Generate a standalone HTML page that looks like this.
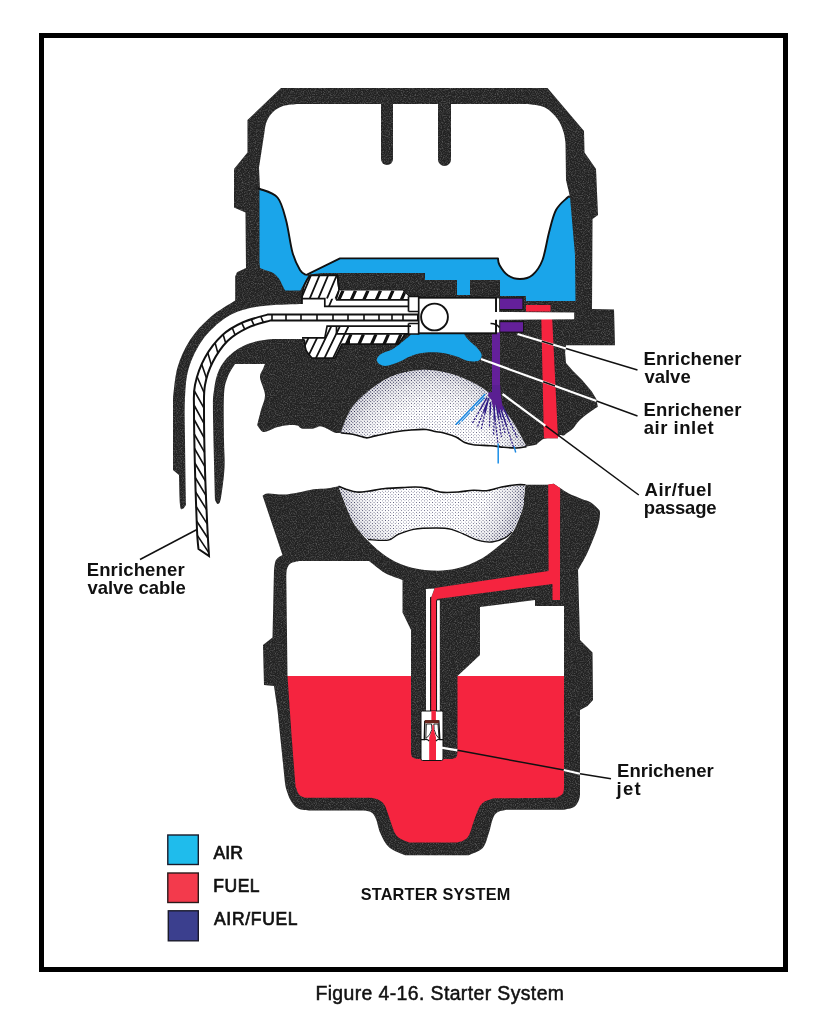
<!DOCTYPE html>
<html><head><meta charset="utf-8"><title>Figure 4-16. Starter System</title>
<style>
html,body{margin:0;padding:0;background:#fff;}
svg{display:block;will-change:transform;}
text{font-family:"Liberation Sans",sans-serif;fill:#111;}
</style></head><body>
<svg width="830" height="1028" viewBox="0 0 830 1028">
<rect width="830" height="1028" fill="#fff"/>
<defs>
<filter id="grain" x="0" y="0" width="100%" height="100%" color-interpolation-filters="sRGB">
<feTurbulence type="fractalNoise" baseFrequency="0.85" numOctaves="2" seed="7" result="n"/>
<feColorMatrix in="n" type="matrix" values="0 0 0 0 0.45  0 0 0 0 0.45  0 0 0 0 0.45  1.6 0 0 0 -0.68" result="w"/>
<feComposite in="w" in2="SourceGraphic" operator="in" result="wi"/>
<feMerge><feMergeNode in="SourceGraphic"/><feMergeNode in="wi"/></feMerge>
</filter>
<pattern id="dots" width="2.3" height="2.3" patternUnits="userSpaceOnUse" patternTransform="rotate(45)">
<rect width="2.3" height="2.3" fill="#fff"/><circle cx="1.15" cy="1.15" r="0.42" fill="#2b2b55"/></pattern>
<pattern id="dots2" width="2.3" height="2.3" patternUnits="userSpaceOnUse" patternTransform="rotate(45)">
<circle cx="1.15" cy="1.15" r="0.66" fill="#26264e"/></pattern>
<radialGradient id="mgU" gradientUnits="userSpaceOnUse" cx="432" cy="468" r="99"><stop offset="0.6" stop-color="#000"/><stop offset="0.86" stop-color="#555"/><stop offset="1" stop-color="#fff"/></radialGradient>
<radialGradient id="mgL" gradientUnits="userSpaceOnUse" cx="432" cy="477" r="94"><stop offset="0.6" stop-color="#000"/><stop offset="0.86" stop-color="#555"/><stop offset="1" stop-color="#fff"/></radialGradient>
<mask id="mkU" maskUnits="userSpaceOnUse" x="320" y="360" width="230" height="230"><rect x="320" y="360" width="230" height="230" fill="url(#mgU)"/></mask>
<mask id="mkL" maskUnits="userSpaceOnUse" x="320" y="360" width="230" height="230"><rect x="320" y="360" width="230" height="230" fill="url(#mgL)"/></mask>
<radialGradient id="rimU" gradientUnits="userSpaceOnUse" cx="432" cy="468" r="99"><stop offset="0.62" stop-color="#556" stop-opacity="0"/><stop offset="1" stop-color="#445" stop-opacity="0.1"/></radialGradient>
<radialGradient id="rimL" gradientUnits="userSpaceOnUse" cx="432" cy="477" r="94"><stop offset="0.62" stop-color="#556" stop-opacity="0"/><stop offset="1" stop-color="#445" stop-opacity="0.1"/></radialGradient>
</defs>
<rect x="41.5" y="35.5" width="744" height="934" fill="none" stroke="#000" stroke-width="5"/>
<path d="M281,88 L547.5,88 L584,131 L584.5,152.5 L596,169 L598,215 L592.5,219 L592,309 L614,309.5 L615,345.3 L566,345.3 L565.1,352.3 L566,363 L573,371 L582.3,380.3 L591.6,391.2 L596.3,399 L597.8,406.7 C596.2,407.8 591.6,410.7 588.5,413 C585.4,415.3 581.7,418.1 579.1,420.7 C576.5,423.3 575.1,426.4 573,428.5 C570.9,430.6 568.3,432 566.7,433.2 C565.1,434.4 564.7,435.2 563.6,435.5 C562.5,435.8 561,434.7 560.1,435 C559.2,435.3 558.4,436.8 558,437.1 L558,438.2 L548.2,438.2 C547.3,438.4 544.8,438.2 542.8,439.3 C540.8,440.4 537.4,443.8 536.3,444.7 L526.5,446.6 C524.9,446.8 520.5,447.9 516.7,448 C512.9,448.1 508,447.7 503.7,447.3 C499.4,446.9 495.8,446.2 490.7,445.8 C485.6,445.4 477.7,445.2 473.4,444.7 C469.1,444.1 467.6,443.8 464.7,442.5 C461.8,441.2 459.6,438.7 456,437.1 C452.4,435.5 446.5,433.7 443,432.8 C439.5,431.9 437.8,432.1 435,431.5 C432.2,430.9 430.3,429.8 426.3,429.5 C422.3,429.2 416.2,429.6 411.1,430 C406.1,430.4 401.8,430.8 396,431.7 C390.2,432.6 381.1,434.6 376.4,435.6 C371.7,436.6 370,437.6 367.8,437.8 C365.6,438.1 365.9,437.7 363.4,437.1 C360.9,436.5 356.4,435 352.6,434.3 C348.8,433.6 342.7,433.1 340.7,432.8 C339.8,432.8 337.5,433.5 335.2,432.8 C332.9,432.1 329.1,429.5 326.6,428.4 C324.1,427.3 322.2,426.3 320,426.3 C317.8,426.3 316.7,428 313.6,428.4 C310.5,428.8 304.3,428.9 301.6,428.4 C298.9,427.9 299.7,426.1 297.3,425.6 C294.9,425.1 290.9,424.9 287.5,425.2 C284.1,425.5 279.8,426.4 276.7,427.3 C273.6,428.2 271.5,429.9 269.1,430.6 C266.8,431.3 264.6,432.6 262.6,431.7 C260.6,430.8 258.1,426.3 257.2,425.2 C257.8,422.7 259.7,415 261,410 C262.3,405 265.2,400.4 265,395 C264.8,389.6 260.3,381.8 260,377.5 C259.7,373.2 262.2,371.2 263,369 C263.8,366.8 264.7,364.8 265,364 L235,364 C233.8,366.2 229.3,372.3 227.5,377.5 C225.7,382.7 224.6,384.6 224,395 C223.4,405.4 223.9,427.9 224,440 C224.1,452.1 225,457.9 224.5,467.5 C224,477.1 222.1,491.4 221,497.5 C219.9,503.6 219,503.6 218,504 C217,504.4 215.5,500.7 215,500 L186,505 C185.4,505.7 183.5,509 182.5,509 C181.5,509 180.6,510.7 180,505 C179.4,499.3 179.2,480 179,475 L173,470 L173,397.5 C173.8,392.5 174.7,377.1 177.5,367.5 C180.3,357.9 184.6,348.3 190,340 C195.4,331.7 202.5,324.1 210,317.5 C217.5,310.9 231,303.4 235.2,300.6 L235.2,276.5 L237,272.3 L246,268 L245.5,212.5 L234,207.5 L234,169 L247.5,152.5 L247.5,120 Z" fill="#222222" filter="url(#grain)"/>
<path d="M320,304 L302.5,304 C296.7,304.2 277.5,304.5 267.5,305.5 C257.5,306.5 250,307.6 242.5,310 C235,312.4 229.2,315 222.5,320 C215.8,325 208.1,332.1 202.5,340 C196.9,347.9 191.9,357.9 189,367.5 C186.1,377.1 185.7,385.4 185,397.5 C184.3,409.6 184.8,422.1 185,440 C185.2,457.9 185.8,494.2 186,505 L186,514 L215,514 L215,500 C214.7,485.8 213.2,433.3 213,415 C212.8,396.7 213,397.5 214,390 C215,382.5 216.3,375.8 219,370 C221.7,364.2 225.2,359.3 230,355 C234.8,350.7 241.2,346.6 247.5,344 C253.8,341.4 261.2,340.3 267.5,339.5 C273.8,338.7 282.1,339.1 285,339 L320,339 Z" fill="#fff"/>
<path d="M297.5,104 L528,104 C530.8,104.6 540.1,105 545,107.5 C549.9,110 554.4,114.9 557.5,119 C560.6,123.1 562.2,128 563.5,132 C564.8,136 565.2,141.2 565.5,143 L566,180 L570,197 C569.6,197.1 569.8,195.3 567.5,197.5 C565.2,199.7 559.1,204.2 556,210 C552.9,215.8 551.2,224.2 549,232.5 C546.8,240.8 545.2,252.9 542.5,260 C539.8,267.1 536.2,271.8 532.5,275 C528.8,278.2 524.2,279 520,279 C515.8,279 510.9,277.3 507.5,275 C504.1,272.7 501.1,267.8 499.5,265 C497.9,262.2 498.2,259.2 498,258 L340,258 L306,275 C305,274.2 302.2,273.8 300,270 C297.8,266.2 294.8,260.8 292.5,252.5 C290.2,244.2 288.5,229.2 286,220 C283.5,210.8 281.8,202.7 277.5,197.5 C273.2,192.3 262.9,190.4 260,189 L259,167.5 L264.5,132 C264.8,130.3 265.2,125.2 266.5,122 C267.8,118.8 269.8,115.2 272.5,112.5 C275.2,109.8 278.8,107.4 283,106 C287.2,104.6 295.5,104.3 298,104 Z" fill="#fff"/>
<path d="M381,100 L381,159 A6,6 0 0 0 393,159 L393,100 Z" fill="#222222" filter="url(#grain)"/>
<path d="M438,100 L438,159.5 A6.5,6.5 0 0 0 451,159.5 L451,100 Z" fill="#222222" filter="url(#grain)"/>
<path d="M259.5,190 C259.7,189.8 257.5,187.8 260.5,189 C263.5,190.2 273.2,192.3 277.5,197.5 C281.8,202.7 283.5,210.8 286,220 C288.5,229.2 290.2,244.2 292.5,252.5 C294.8,260.8 297.8,266.2 300,270 C302.2,273.8 305,274.2 306,275 L308,276 L300.3,290.6 L285.2,290.6 C284.8,289.9 283.8,288.1 282.8,286.1 C281.8,284.2 280.8,281.1 279.2,278.9 C277.6,276.7 275.6,274.4 273.2,272.9 C270.8,271.4 267,270.7 264.8,269.9 C262.6,269.1 260.8,268.3 260,268 L259.5,262 Z" fill="#1aa5ea"/>
<path d="M259,189.5 C259.2,189.4 256.9,187.7 260,189 C263.1,190.3 273.2,192.3 277.5,197.5 C281.8,202.7 283.5,210.8 286,220 C288.5,229.2 290.2,244.2 292.5,252.5 C294.8,260.8 297.8,266.2 300,270 C302.2,273.8 305,274.2 306,275" fill="none" stroke="#111" stroke-width="1.9"/>
<path d="M340,258.8 L498,258.8 C498.2,259.8 497.9,262.3 499.5,265 C501.1,267.7 504.1,272.7 507.5,275 C510.9,277.3 515.8,279 520,279 C524.2,279 528.8,278.2 532.5,275 C536.2,271.8 539.8,267.1 542.5,260 C545.2,252.9 546.8,240.8 549,232.5 C551.2,224.2 552.9,215.8 556,210 C559.1,204.2 565.2,199.7 567.5,197.5 C569.8,195.3 569.6,197.1 570,197 L575,255 L575.5,301 L526,301 L526,296 L500,296 L500,280 L470,280 L470,295 L457,295 L457,280 L425,280 L425,273 L322.5,273 L309,274.5 Z" fill="#1aa5ea"/>
<path d="M306,275 L340,258.4 L498,258.4 C498.2,259.5 497.9,262.2 499.5,265 C501.1,267.8 504.1,272.7 507.5,275 C510.9,277.3 515.8,279 520,279 C524.2,279 528.8,278.2 532.5,275 C536.2,271.8 539.8,267.1 542.5,260 C545.2,252.9 546.8,240.8 549,232.5 C551.2,224.2 552.9,215.8 556,210 C559.1,204.2 565.2,199.7 567.5,197.5 C569.8,195.3 569.6,197.1 570,197" fill="none" stroke="#111" stroke-width="1.9" stroke-linejoin="round"/>
<path d="M409.7,336 L412,333 L464.5,333 L464.5,335 C465.3,336 467.5,339 469.5,341 C471.5,343 474.3,344.9 476.3,347 C478.3,349.1 480.7,351.8 481.4,353.7 C482.1,355.6 481.4,357.4 480.5,358.7 C479.6,360 478.7,361 476.3,361.3 C473.9,361.6 469.6,361.2 466.2,360.4 C462.8,359.5 460.2,357.5 456,356.2 C451.8,354.9 446.2,353.4 440.9,352.8 C435.6,352.2 429.1,352.2 424,352.8 C418.9,353.4 414.7,354.6 410.5,356.2 C406.3,357.8 402.6,360.5 398.7,362.1 C394.8,363.7 390.1,365.4 387,365.8 C383.9,366.2 381.9,365.5 380.2,364.6 C378.5,363.7 377.1,361.8 376.8,360.4 C376.5,359 377.4,357.5 378.5,356.2 C379.6,354.9 381.2,353.9 383.5,352.8 C385.8,351.7 389.2,351.1 392,349.5 C394.8,347.9 398.1,345.2 400.4,343.5 C402.6,341.8 403.9,340.6 405.5,339.3 C407.1,338.1 409,336.6 409.7,336 Z" fill="#1aa5ea"/>
<path d="M340.7,432.8 C342.3,429 346.3,416.5 350.4,410 C354.4,403.5 358.4,399.5 365,394 C371.6,388.5 380.8,381 390,377 C399.2,373 410,370.6 420,370 C430,369.4 440.4,371 450,373.5 C459.6,376 470.2,380.9 477.5,385 C484.8,389.1 488.6,392.5 494,398 C499.4,403.5 505.7,411.7 510.2,418 C514.7,424.3 518.3,431.2 521,436 C523.7,440.8 525.6,444.8 526.5,446.6 C524.9,446.8 520.5,447.9 516.7,448 C512.9,448.1 508,447.7 503.7,447.3 C499.4,446.9 495.8,446.2 490.7,445.8 C485.6,445.4 477.7,445.2 473.4,444.7 C469.1,444.1 467.6,443.8 464.7,442.5 C461.8,441.2 459.6,438.7 456,437.1 C452.4,435.5 446.5,433.7 443,432.8 C439.5,431.9 437.8,432.1 435,431.5 C432.2,430.9 430.3,429.8 426.3,429.5 C422.3,429.2 416.2,429.6 411.1,430 C406.1,430.4 401.8,430.8 396,431.7 C390.2,432.6 381.1,434.6 376.4,435.6 C371.7,436.6 370,437.6 367.8,437.8 C365.6,438.1 365.9,437.7 363.4,437.1 C360.9,436.5 356.4,435 352.6,434.3 C348.8,433.6 342.7,433.1 340.7,432.8 Z" fill="url(#dots)"/>
<path d="M340.7,432.8 C342.3,429 346.3,416.5 350.4,410 C354.4,403.5 358.4,399.5 365,394 C371.6,388.5 380.8,381 390,377 C399.2,373 410,370.6 420,370 C430,369.4 440.4,371 450,373.5 C459.6,376 470.2,380.9 477.5,385 C484.8,389.1 488.6,392.5 494,398 C499.4,403.5 505.7,411.7 510.2,418 C514.7,424.3 518.3,431.2 521,436 C523.7,440.8 525.6,444.8 526.5,446.6 C524.9,446.8 520.5,447.9 516.7,448 C512.9,448.1 508,447.7 503.7,447.3 C499.4,446.9 495.8,446.2 490.7,445.8 C485.6,445.4 477.7,445.2 473.4,444.7 C469.1,444.1 467.6,443.8 464.7,442.5 C461.8,441.2 459.6,438.7 456,437.1 C452.4,435.5 446.5,433.7 443,432.8 C439.5,431.9 437.8,432.1 435,431.5 C432.2,430.9 430.3,429.8 426.3,429.5 C422.3,429.2 416.2,429.6 411.1,430 C406.1,430.4 401.8,430.8 396,431.7 C390.2,432.6 381.1,434.6 376.4,435.6 C371.7,436.6 370,437.6 367.8,437.8 C365.6,438.1 365.9,437.7 363.4,437.1 C360.9,436.5 356.4,435 352.6,434.3 C348.8,433.6 342.7,433.1 340.7,432.8 Z" fill="url(#rimU)"/>
<path d="M340.7,432.8 C342.3,429 346.3,416.5 350.4,410 C354.4,403.5 358.4,399.5 365,394 C371.6,388.5 380.8,381 390,377 C399.2,373 410,370.6 420,370 C430,369.4 440.4,371 450,373.5 C459.6,376 470.2,380.9 477.5,385 C484.8,389.1 488.6,392.5 494,398 C499.4,403.5 505.7,411.7 510.2,418 C514.7,424.3 518.3,431.2 521,436 C523.7,440.8 525.6,444.8 526.5,446.6 C524.9,446.8 520.5,447.9 516.7,448 C512.9,448.1 508,447.7 503.7,447.3 C499.4,446.9 495.8,446.2 490.7,445.8 C485.6,445.4 477.7,445.2 473.4,444.7 C469.1,444.1 467.6,443.8 464.7,442.5 C461.8,441.2 459.6,438.7 456,437.1 C452.4,435.5 446.5,433.7 443,432.8 C439.5,431.9 437.8,432.1 435,431.5 C432.2,430.9 430.3,429.8 426.3,429.5 C422.3,429.2 416.2,429.6 411.1,430 C406.1,430.4 401.8,430.8 396,431.7 C390.2,432.6 381.1,434.6 376.4,435.6 C371.7,436.6 370,437.6 367.8,437.8 C365.6,438.1 365.9,437.7 363.4,437.1 C360.9,436.5 356.4,435 352.6,434.3 C348.8,433.6 342.7,433.1 340.7,432.8 Z" fill="url(#dots2)" mask="url(#mkU)"/>
<path d="M526.5,446.6 C524.9,446.8 520.5,447.9 516.7,448 C512.9,448.1 508,447.7 503.7,447.3 C499.4,446.9 495.8,446.2 490.7,445.8 C485.6,445.4 477.7,445.2 473.4,444.7 C469.1,444.1 467.6,443.8 464.7,442.5 C461.8,441.2 459.6,438.7 456,437.1 C452.4,435.5 446.5,433.7 443,432.8 C439.5,431.9 437.8,432.1 435,431.5 C432.2,430.9 430.3,429.8 426.3,429.5 C422.3,429.2 416.2,429.6 411.1,430 C406.1,430.4 401.8,430.8 396,431.7 C390.2,432.6 381.1,434.6 376.4,435.6 C371.7,436.6 370,437.6 367.8,437.8 C365.6,438.1 365.9,437.7 363.4,437.1 C360.9,436.5 356.4,435 352.6,434.3 C348.8,433.6 342.7,433.1 340.7,432.8" fill="none" stroke="#111" stroke-width="1.6" stroke-linejoin="round"/>
<path d="M541.3,319 L552.2,319 L558,438.2 L543.9,438.2 Z" fill="#f5243f"/>
<rect x="526" y="305" width="24.5" height="6.5" fill="#f5243f"/>
<rect x="499.4" y="298" width="23.6" height="11.6" fill="#64209a" stroke="#151515" stroke-width="1.2"/>
<rect x="499.6" y="321.6" width="24" height="10.6" fill="#64209a" stroke="#151515" stroke-width="1.2"/>
<path d="M492,332.5 L500,332.5 L500,385 L498,395 L494,395 L492,385 Z" fill="#64209a"/>
<rect x="417.7" y="297.7" width="78.3" height="35.6" fill="#fff" stroke="#111" stroke-width="1.9"/>
<circle cx="434.5" cy="317" r="13.4" fill="#fff" stroke="#111" stroke-width="1.9"/>
<path d="M495,312 L574.2,312.4 L574.2,319.2 L495,319.8 Z" fill="#fff"/>
<rect x="497" y="298.4" width="2.2" height="34" fill="#fff"/>
<path d="M490.5,323.6 Q496,323.4 499.5,327.5" fill="none" stroke="#111" stroke-width="1.5"/>
<clipPath id="fitclip"><path d="M302,304 L302,296.5 C302.2,295.1 302.7,290.8 303.5,288 C304.3,285.2 305.8,282.1 307,280 C308.2,277.9 310.1,276.2 310.7,275.5 L337.3,275.2 L339,289 L339.5,290.5 L403,290.5 L408.5,296.3 L418.7,296.3 L418.7,334 L408.5,334 L404.6,334.7 L398.4,344.1 L342,344.1 L335,358.2 L312,358.2 C311,356.8 307.3,353 306,350 C304.7,347 304.7,341.8 304.4,340.2 L302,339 Z"/></clipPath>
<path d="M302,304 L302,296.5 C302.2,295.1 302.7,290.8 303.5,288 C304.3,285.2 305.8,282.1 307,280 C308.2,277.9 310.1,276.2 310.7,275.5 L337.3,275.2 L339,289 L339.5,290.5 L403,290.5 L408.5,296.3 L418.7,296.3 L418.7,334 L408.5,334 L404.6,334.7 L398.4,344.1 L342,344.1 L335,358.2 L312,358.2 C311,356.8 307.3,353 306,350 C304.7,347 304.7,341.8 304.4,340.2 L302,339 Z" fill="#fff"/>
<path d="M302,304 L302,296.5 C302.2,295.1 302.7,290.8 303.5,288 C304.3,285.2 305.8,282.1 307,280 C308.2,277.9 310.1,276.2 310.7,275.5 L337.3,275.2 L339,289 L339.5,290.5 L403,290.5 L408.5,296.3 L418.7,296.3 L418.7,334 L408.5,334 L404.6,334.7 L398.4,344.1 L342,344.1 L335,358.2 L312,358.2 C311,356.8 307.3,353 306,350 C304.7,347 304.7,341.8 304.4,340.2 L302,339" fill="none" stroke="#111" stroke-width="1.7" stroke-linejoin="round"/>
<g clip-path="url(#fitclip)">
<clipPath id="nt"><rect x="300" y="274" width="39.5" height="24.7"/></clipPath>
<g clip-path="url(#nt)"><path d="M292.5,298.7 L302.5,275 M301.1,298.7 L311.1,275 M309.7,298.7 L319.7,275 M318.3,298.7 L328.3,275 M326.9,298.7 L336.9,275 M335.5,298.7 L345.5,275 M344.1,298.7 L354.1,275" stroke="#111" stroke-width="1.8" fill="none"/></g>
<clipPath id="nt2"><rect x="324.8" y="298.7" width="11" height="7.8"/></clipPath>
<g clip-path="url(#nt2)"><path d="M285.9,306.5 L299.2,275 M294.5,306.5 L307.8,275 M303.1,306.5 L316.4,275 M311.7,306.5 L325,275 M320.3,306.5 L333.6,275 M328.9,306.5 L342.2,275 M337.5,306.5 L350.8,275 M346.1,306.5 L359.4,275" stroke="#111" stroke-width="1.8" fill="none"/></g>
<clipPath id="nb"><path d="M300,337.8 L324.8,337.8 L327.1,326.1 L350,326.1 L350,360 L300,360 Z"/></clipPath>
<g clip-path="url(#nb)"><path d="M281.5,358.2 L297,326.1 M290.1,358.2 L305.6,326.1 M298.7,358.2 L314.2,326.1 M307.3,358.2 L322.8,326.1 M315.9,358.2 L331.4,326.1 M324.5,358.2 L340,326.1 M333.1,358.2 L348.6,326.1 M341.7,358.2 L357.2,326.1 M350.3,358.2 L365.8,326.1 M358.9,358.2 L374.4,326.1" stroke="#111" stroke-width="1.8" fill="none"/></g>
<clipPath id="tt"><path d="M339.5,290 L403,290 L409,296.3 L409,299.8 L336,299.8 Z"/></clipPath>
<g clip-path="url(#tt)"><rect x="330" y="288" width="85" height="13" fill="#fff"/><path d="M338.8,299.8 L343,290.5 M351.3,299.8 L355.5,290.5 M363.8,299.8 L368,290.5 M376.3,299.8 L380.5,290.5 M388.8,299.8 L393,290.5 M401.3,299.8 L405.5,290.5 M413.8,299.8 L418,290.5" stroke="#111" stroke-width="3.2" fill="none"/></g>
<clipPath id="tb"><path d="M340,334.2 L406,334.2 L398.4,344.5 L340,344.5 Z"/></clipPath>
<g clip-path="url(#tb)"><path d="M333.9,344.5 L338.5,334.2 M346.4,344.5 L351,334.2 M358.9,344.5 L363.5,334.2 M371.4,344.5 L376,334.2 M383.9,344.5 L388.5,334.2 M396.4,344.5 L401,334.2 M408.9,344.5 L413.5,334.2" stroke="#111" stroke-width="3.2" fill="none"/></g>
</g>
<path d="M302,298.7 L324.8,298.7 L324.8,306.3 L408.5,306.3 M336,299.8 L408.5,299.8 M339,290.5 L336,299.8 M337.3,275.2 L339,289 M302,337.8 L324.8,337.8 L327.1,326.1 L411,326.1 M336.5,333.8 L408.5,333.8 M336.5,326.1 L336.5,333.8 M408.5,296.3 L408.5,311.5 M408.5,323.5 L408.5,334 M408.5,311.5 L418.7,311.5 M408.5,323.5 L418.7,323.5 M413,314.8 L413,320.6" fill="none" stroke="#111" stroke-width="1.7" stroke-linejoin="miter"/>
<path d="M418,314.6 L267.5,314.6 C263.3,315.9 250,319.1 242.5,322.5 C235,325.9 228.8,329.2 222.5,335 C216.2,340.8 209.6,349.2 205,357.5 C200.4,365.8 196.8,376.2 195,385 C193.2,393.8 194,395.8 194,410 C194,424.2 194.5,450 195,470 C195.5,490 196.4,516.8 197,530 C197.6,543.2 198.2,545.8 198.5,549 L209,556 C208.8,551.7 208.2,544.3 207.5,530 C206.8,515.7 205.6,490 205,470 C204.4,450 204,424.2 204,410 C204,395.8 203.6,392.9 205,385 C206.4,377.1 208.8,369.8 212.5,362.5 C216.2,355.2 221.7,346.8 227.5,341 C233.3,335.2 240.4,331.2 247.5,327.8 C254.6,324.4 266.2,321.8 270,320.6 L418,320.6 Z" fill="#fff" stroke="#111" stroke-width="2" stroke-linejoin="miter"/>
<path d="M403,314.6 L403,320.6 M392,314.6 L392,320.6 M379,314.6 L379,320.6 M364,314.6 L364,320.6 M348,314.6 L348,320.6 M333,314.6 L333,320.6 M317,314.6 L317,320.6 M301,314.6 L301,320.6 M286,314.6 L286,320.6 M272,314.6 L272,320.6 M260.8,316.5 L263.3,322.4 M251.3,319.3 L254,325.2 M241.7,322.9 L244.7,329.2 M232.2,327.8 L235,334.8 M223.1,334.4 L225.7,342.9 M215.1,342.9 L217.9,353.2 M207.8,352.8 L211.3,364.9 M201.7,364.2 L206.5,378.2 M197.1,376.8 L204.1,392.8 M194.1,390.5 L204,408.2 M194,405 L204.1,423.6 M194.1,419.5 L204.3,438 M194.2,434 L204.6,452.3 M194.5,448.5 L204.9,466.6 M194.8,463 L205.4,481 M195.2,477.5 L205.9,495.3 M195.6,492 L206.6,509.6 M196.1,506.5 L207.2,523.9 M196.6,521 L207.9,538.2 M197.3,535.4 L208.8,552.6" fill="none" stroke="#111" stroke-width="1.6"/>
<path d="M487,397.5 L480.5,409 M488.2,399.5 L485,413.2 M490.6,402 L490.1,413.7 M493,401 L495.2,419.7 M496,403 L498.5,418.3 M497.8,405 L501,417.6 M500.2,407 L506.2,425 M502.5,406 L509.1,420.2 M489,398 L483.6,411.5 M494.5,404 L494.1,418.4" fill="none" stroke="#2e1c86" stroke-width="1.5"/>
<path d="M480.5,409 L472.5,423 M485,413.2 L481,430 M490.1,413.7 L489.4,428 M495.2,419.7 L497.8,442.5 M498.5,418.3 L501.5,437 M501,417.6 L505,433 M506.2,425 L513.5,447 M509.1,420.2 L517.1,437.5 M483.6,411.5 L477,428 M494.1,418.4 L493.5,436" fill="none" stroke="#2e1c86" stroke-width="1.2" stroke-dasharray="2.2 1.3"/>
<path d="M492,385 L500.2,385 L500.6,394 L503.5,412 L500,408 L498.5,414 L496,404 L493.5,409 L491.5,400 L488,396 L488.5,392.5 L492,392 Z" fill="#5a1f92"/>
<path d="M485.2,394 L455.7,424.8" stroke="#1a86e0" stroke-width="1.6" fill="none"/>
<path d="M484.5,397.5 L459,424" stroke="#1a86e0" stroke-width="1.1" fill="none" stroke-dasharray="12 2 5 2"/>
<path d="M498.2,443.5 L498.2,463.4" stroke="#1a8fe8" stroke-width="1.5" fill="none"/>
<path d="M514.1,446.5 L515.7,452.5" stroke="#1a86e0" stroke-width="1.4" fill="none"/>
<path d="M262.6,495.7 C263.5,495.3 264.6,493.7 268,493.5 C271.4,493.3 278.1,494.8 283.2,494.6 C288.3,494.4 293.3,493.3 298.4,492.4 C303.5,491.5 308.9,489.8 313.6,489.2 C318.3,488.6 322.5,489 326.6,488.5 C330.8,488 336.5,486.7 338.5,486.3 C339.8,486.8 343,488.2 346.1,489.2 C349.2,490.1 353.3,491.6 356.9,492 C360.5,492.4 363.1,491.9 367.8,491.3 C372.5,490.7 379.3,489.1 385.1,488.5 C390.9,487.9 397.4,487.9 402.5,487.6 C407.6,487.4 411.5,486.9 415.5,487 C419.5,487.1 423.1,487.5 426.3,488.1 C429.6,488.7 432.2,490 435,490.7 C437.8,491.4 439.1,492.2 443,492.4 C446.9,492.6 453.1,492.4 458.2,492 C463.3,491.6 468.7,490.4 473.4,490.2 C478.1,490 481.7,491.2 486.4,490.7 C491.1,490.2 496.6,488 501.6,487 C506.7,486 512.7,485.2 516.7,484.8 C520.7,484.4 524,484.8 525.4,484.8 L548.2,484.8 L553.6,483.7 C554.7,484.4 557.6,486.5 560.1,488.1 C562.6,489.7 565.2,491.7 568.8,493.5 C572.4,495.3 578.2,497.4 581.8,498.9 C585.4,500.3 587.8,500.6 590.5,502.2 C593.2,503.8 596.4,506.8 598,508.7 C599.6,510.6 600.1,510.4 600,513.5 C599.9,516.6 599.6,521 597.5,527.5 C595.4,534 590.8,545.4 587.5,552.5 C584.2,559.6 579.6,567.1 578,570 L580,640 L592.5,652.5 L593,700 L587.5,706 L580,710 L580,795 C579.8,796 579.5,799 578.5,801 C577.5,803 576.4,805.5 574,807 C571.6,808.5 565.8,809.3 564.2,809.8 L506,809.8 C504.5,810.2 499.2,811 497,812.5 C494.8,814 494.1,815.5 492.7,819 C491.3,822.5 490.4,828.8 488.7,833.6 C487,838.4 486,844.4 482.7,848 C479.4,851.6 471.1,854 468.8,855.2 L405.2,855.2 C402.6,853.9 393.4,851.1 389.3,847.5 C385.2,843.9 382.7,838.4 380.5,833.6 C378.3,828.9 377.5,822.5 376,819 C374.5,815.5 373.6,813.9 371.5,812.5 C369.4,811.1 364.8,810.9 363.5,810.6 L309.8,810.6 C307.8,810.2 301.1,810.1 298,808.5 C294.9,806.9 292.9,804.1 291,801 C289.1,797.9 287.5,793 286.5,790 C285.5,787 285.2,784.2 285,783 L277.5,710 L274,686 L264,685 L263,645 L272.5,637.5 L274,570 C274.3,568.3 274.6,562.5 276,560 C277.4,557.5 281.4,555.8 282.5,555 Z" fill="#222222" filter="url(#grain)"/>
<path d="M338.5,486.3 C339.8,486.8 343,488.2 346.1,489.2 C349.2,490.1 353.3,491.6 356.9,492 C360.5,492.4 363.1,491.9 367.8,491.3 C372.5,490.7 379.3,489.1 385.1,488.5 C390.9,487.9 397.4,487.9 402.5,487.6 C407.6,487.4 411.5,486.9 415.5,487 C419.5,487.1 423.1,487.5 426.3,488.1 C429.6,488.7 432.2,490 435,490.7 C437.8,491.4 439.1,492.2 443,492.4 C446.9,492.6 453.1,492.4 458.2,492 C463.3,491.6 468.7,490.4 473.4,490.2 C478.1,490 481.7,491.2 486.4,490.7 C491.1,490.2 496.6,488 501.6,487 C506.7,486 512.7,485.2 516.7,484.8 C520.7,484.4 524,484.8 525.4,484.8 C525.2,486.7 524.6,492.3 524.2,496 C523.8,499.7 524.2,502.5 523,507 C521.8,511.5 519,518.7 517.2,523 C515.4,527.3 514.7,529.6 512.2,533 C509.7,536.4 507.1,539.1 502,543.3 C496.9,547.5 489.4,554.2 481.8,558.4 C474.2,562.6 464.9,566.6 456.5,568.6 C448.1,570.6 439.6,570.9 431.2,570.5 C422.8,570.1 413.6,568.4 406,566 C398.4,563.6 392,560.2 385.7,556 C379.4,551.8 373.1,545.8 368,540.7 C362.9,535.6 358.6,530.5 355.3,525.5 C352,520.5 350.1,515.8 348,511 C345.9,506.2 344.1,501.1 342.5,497 C340.9,492.9 339.2,488.1 338.5,486.3 Z" fill="#fff"/>
<path d="M338.5,486.3 C339.8,486.8 343,488.2 346.1,489.2 C349.2,490.1 353.3,491.6 356.9,492 C360.5,492.4 363.1,491.9 367.8,491.3 C372.5,490.7 379.3,489.1 385.1,488.5 C390.9,487.9 397.4,487.9 402.5,487.6 C407.6,487.4 411.5,486.9 415.5,487 C419.5,487.1 423.1,487.5 426.3,488.1 C429.6,488.7 432.2,490 435,490.7 C437.8,491.4 439.1,492.2 443,492.4 C446.9,492.6 453.1,492.4 458.2,492 C463.3,491.6 468.7,490.4 473.4,490.2 C478.1,490 481.7,491.2 486.4,490.7 C491.1,490.2 496.6,488 501.6,487 C506.7,486 512.7,485.2 516.7,484.8 C520.7,484.4 524,484.8 525.4,484.8 C525.2,486.7 524.6,492.3 524.2,496 C523.8,499.7 524.2,502.5 523,507 C521.8,511.5 519,518.9 517.2,523 C515.4,527.1 513,530.4 512.2,531.9 C510.9,533 508,536.5 504.6,538.2 C501.2,539.9 496.2,541.6 492,542 C487.8,542.4 483.9,542 479.3,540.7 C474.7,539.4 468.7,536.3 464.1,534.4 C459.5,532.5 456.1,530.4 451.5,529.3 C446.9,528.2 442.6,528 436.3,528 C430,528 419.8,528.2 413.5,529.3 C407.2,530.4 402.5,532.6 398.3,534.4 C394.1,536.2 393.2,539.4 388.2,540.2 C383.1,541.1 371.4,539.6 368,539.5 C365.9,537.2 358.6,530.2 355.3,525.5 C352,520.8 350.1,515.8 348,511 C345.9,506.2 344.1,501.1 342.5,497 C340.9,492.9 339.2,488.1 338.5,486.3 Z" fill="url(#dots)"/>
<path d="M338.5,486.3 C339.8,486.8 343,488.2 346.1,489.2 C349.2,490.1 353.3,491.6 356.9,492 C360.5,492.4 363.1,491.9 367.8,491.3 C372.5,490.7 379.3,489.1 385.1,488.5 C390.9,487.9 397.4,487.9 402.5,487.6 C407.6,487.4 411.5,486.9 415.5,487 C419.5,487.1 423.1,487.5 426.3,488.1 C429.6,488.7 432.2,490 435,490.7 C437.8,491.4 439.1,492.2 443,492.4 C446.9,492.6 453.1,492.4 458.2,492 C463.3,491.6 468.7,490.4 473.4,490.2 C478.1,490 481.7,491.2 486.4,490.7 C491.1,490.2 496.6,488 501.6,487 C506.7,486 512.7,485.2 516.7,484.8 C520.7,484.4 524,484.8 525.4,484.8 C525.2,486.7 524.6,492.3 524.2,496 C523.8,499.7 524.2,502.5 523,507 C521.8,511.5 519,518.9 517.2,523 C515.4,527.1 513,530.4 512.2,531.9 C510.9,533 508,536.5 504.6,538.2 C501.2,539.9 496.2,541.6 492,542 C487.8,542.4 483.9,542 479.3,540.7 C474.7,539.4 468.7,536.3 464.1,534.4 C459.5,532.5 456.1,530.4 451.5,529.3 C446.9,528.2 442.6,528 436.3,528 C430,528 419.8,528.2 413.5,529.3 C407.2,530.4 402.5,532.6 398.3,534.4 C394.1,536.2 393.2,539.4 388.2,540.2 C383.1,541.1 371.4,539.6 368,539.5 C365.9,537.2 358.6,530.2 355.3,525.5 C352,520.8 350.1,515.8 348,511 C345.9,506.2 344.1,501.1 342.5,497 C340.9,492.9 339.2,488.1 338.5,486.3 Z" fill="url(#rimL)"/>
<path d="M338.5,486.3 C339.8,486.8 343,488.2 346.1,489.2 C349.2,490.1 353.3,491.6 356.9,492 C360.5,492.4 363.1,491.9 367.8,491.3 C372.5,490.7 379.3,489.1 385.1,488.5 C390.9,487.9 397.4,487.9 402.5,487.6 C407.6,487.4 411.5,486.9 415.5,487 C419.5,487.1 423.1,487.5 426.3,488.1 C429.6,488.7 432.2,490 435,490.7 C437.8,491.4 439.1,492.2 443,492.4 C446.9,492.6 453.1,492.4 458.2,492 C463.3,491.6 468.7,490.4 473.4,490.2 C478.1,490 481.7,491.2 486.4,490.7 C491.1,490.2 496.6,488 501.6,487 C506.7,486 512.7,485.2 516.7,484.8 C520.7,484.4 524,484.8 525.4,484.8 C525.2,486.7 524.6,492.3 524.2,496 C523.8,499.7 524.2,502.5 523,507 C521.8,511.5 519,518.9 517.2,523 C515.4,527.1 513,530.4 512.2,531.9 C510.9,533 508,536.5 504.6,538.2 C501.2,539.9 496.2,541.6 492,542 C487.8,542.4 483.9,542 479.3,540.7 C474.7,539.4 468.7,536.3 464.1,534.4 C459.5,532.5 456.1,530.4 451.5,529.3 C446.9,528.2 442.6,528 436.3,528 C430,528 419.8,528.2 413.5,529.3 C407.2,530.4 402.5,532.6 398.3,534.4 C394.1,536.2 393.2,539.4 388.2,540.2 C383.1,541.1 371.4,539.6 368,539.5 C365.9,537.2 358.6,530.2 355.3,525.5 C352,520.8 350.1,515.8 348,511 C345.9,506.2 344.1,501.1 342.5,497 C340.9,492.9 339.2,488.1 338.5,486.3 Z" fill="url(#dots2)" mask="url(#mkL)"/>
<path d="M338.5,486.3 C339.8,486.8 343,488.2 346.1,489.2 C349.2,490.1 353.3,491.6 356.9,492 C360.5,492.4 363.1,491.9 367.8,491.3 C372.5,490.7 379.3,489.1 385.1,488.5 C390.9,487.9 397.4,487.9 402.5,487.6 C407.6,487.4 411.5,486.9 415.5,487 C419.5,487.1 423.1,487.5 426.3,488.1 C429.6,488.7 432.2,490 435,490.7 C437.8,491.4 439.1,492.2 443,492.4 C446.9,492.6 453.1,492.4 458.2,492 C463.3,491.6 468.7,490.4 473.4,490.2 C478.1,490 481.7,491.2 486.4,490.7 C491.1,490.2 496.6,488 501.6,487 C506.7,486 512.7,485.2 516.7,484.8 C520.7,484.4 524,484.8 525.4,484.8" fill="none" stroke="#111" stroke-width="1.6" stroke-linejoin="round"/>
<path d="M512.2,531.9 C510.9,533 508,536.5 504.6,538.2 C501.2,539.9 496.2,541.6 492,542 C487.8,542.4 483.9,542 479.3,540.7 C474.7,539.4 468.7,536.3 464.1,534.4 C459.5,532.5 456.1,530.4 451.5,529.3 C446.9,528.2 442.6,528 436.3,528 C430,528 419.8,528.2 413.5,529.3 C407.2,530.4 402.5,532.6 398.3,534.4 C394.1,536.2 393.2,539.4 388.2,540.2 C383.1,541.1 371.4,539.6 368,539.5" fill="none" stroke="#111" stroke-width="1.3" stroke-linejoin="round"/>
<path d="M297.5,561 L369,561 C371.7,563 379.4,569.8 385,573 C390.6,576.2 399.6,578.8 402.5,580 L402.5,612.5 L411,630 L411,676 L287.5,676 L286.3,577 C286.4,575.7 286.3,571.2 287,569 C287.7,566.8 288.5,564.8 290.5,563.5 C292.5,562.2 297.6,561.4 299,561 Z" fill="#fff"/>
<path d="M480,607 L535,600 L535,606 L553,606 L564,606 L564,676 L457.5,676 L480,655 Z" fill="#fff"/>
<path d="M287.5,676 L411,676 L411,752 C411.2,752.8 411,755.8 412,757 C413,758.2 416.2,758.7 417,759 L452,759 C452.8,758.7 455.6,758.2 456.5,757 C457.4,755.8 457.3,752.8 457.5,752 L457.5,676 L564,676 L564,788 C563.8,789 563.8,792.4 562.5,794 C561.2,795.6 557.3,797.2 556.3,797.8 L494,798.3 C492.3,798.9 486.6,800.3 484,802 C481.4,803.7 480.4,805.2 478.7,808.5 C477,811.8 475.2,817.2 473.6,821.7 C472,826.2 470.6,832.4 468.8,835.6 C467,838.8 465,839.7 463,840.8 C461,841.9 457.9,842.1 456.9,842.4 L409,842.4 C407.7,841.8 403.3,840.5 401,839 C398.7,837.5 397.1,837.1 395.2,833.6 C393.2,830.1 391.1,822.5 389.3,817.7 C387.5,812.9 386.4,808 384.5,805 C382.6,802 380.5,800.7 378,799.5 C375.5,798.3 370.8,798.1 369.4,797.8 L305,797.8 C304,797.2 300.6,796.5 299,794.5 C297.4,792.5 296.1,787.4 295.5,786 L291.5,735 Z" fill="#f5243f"/>
<path d="M548.2,484.6 L553.6,483.7 L560.1,488.1 L560,600 L552.5,600 L552.5,584 L437,599 L436.1,601 L436.1,711 L431.1,711 L431.1,598 L434.8,588 L548.6,571 Z" fill="#f5243f"/>
<path d="M426,589 L434.4,588.4 L431.4,596.8 L430.1,597 L430.1,712 L426,712 Z" fill="#fff"/>
<path d="M437,600.6 L439.8,600.2 L439.8,712 L437,712 Z" fill="#fff"/>
<path d="M430.6,597.5 L430.6,711 M436.55,600.5 L436.55,711" stroke="#111" stroke-width="0.9" fill="none"/>
<rect x="421" y="711" width="22" height="49.5" rx="1.5" fill="#fff" stroke="#111" stroke-width="1"/>
<rect x="431.4" y="711" width="4.5" height="11" fill="#f5243f"/>
<path d="M424.8,721 L438.8,721 L439.8,739.6 L443,739.6 M424.8,721 L424.3,739.6 L421,739.6" fill="none" stroke="#111" stroke-width="1.4"/>
<path d="M426.3,724 L431.6,724 L431.9,729.5 Q430.5,735.5 425.8,738.5 Z M438,724 L433.9,724 L434.1,729.5 Q435.5,735.5 439,738.5 Z" fill="#fff" stroke="#111" stroke-width="0.9"/>
<path d="M432.4,725 L433.6,725 L433.9,730 L436,737.5 L436,760 L429.2,760 L429.2,737.5 L432,730 Z" fill="#f5243f"/>
<rect x="424.8" y="720.2" width="14" height="3" fill="#6a241c"/>
<path d="M424.3,739.6 Q427,738.6 429.2,741 M439.8,739.6 Q438,738.6 436,741" fill="none" stroke="#111" stroke-width="1.2"/>
<path d="M517.5,334 L566,348.5" stroke="#fff" stroke-width="2.2" fill="none"/>
<path d="M566,348.5 L637.5,370" stroke="#111" stroke-width="1.5" fill="none"/>
<path d="M541.8,341.3 L553.2,344.7" stroke="#111" stroke-width="1.5" fill="none"/>
<path d="M481,359 L596.5,401" stroke="#fff" stroke-width="2.2" fill="none"/>
<path d="M596.5,401 L637.5,416" stroke="#111" stroke-width="1.5" fill="none"/>
<path d="M543.2,381.7 L555,386" stroke="#111" stroke-width="1.5" fill="none"/>
<path d="M502.5,394 L545.5,425.9" stroke="#fff" stroke-width="2.2" fill="none"/>
<path d="M545.5,425.9 L638.8,495" stroke="#111" stroke-width="1.5" fill="none"/>
<path d="M439.8,747.4 L457.5,750.3" stroke="#fff" stroke-width="2.2" fill="none"/>
<path d="M457.5,750.3 L563.8,770" stroke="#111" stroke-width="1.5" fill="none"/>
<path d="M563.8,770 L580,773.8" stroke="#fff" stroke-width="2.2" fill="none"/>
<path d="M580,773.8 L611,778.8" stroke="#111" stroke-width="1.5" fill="none"/>
<path d="M197,529.5 L140,559.5" stroke="#111" stroke-width="1.5" fill="none"/>
<text x="86.7" y="575.8" font-size="18.5" font-weight="bold" textLength="97.9" lengthAdjust="spacing">Enrichener</text>
<text x="87.4" y="593.8" font-size="18.5" font-weight="bold" textLength="98.3" lengthAdjust="spacing">valve cable</text>
<text x="643.6" y="364.5" font-size="18.5" font-weight="bold" textLength="97.9" lengthAdjust="spacing">Enrichener</text>
<text x="644.4" y="382.5" font-size="18.5" font-weight="bold" textLength="46.3" lengthAdjust="spacing">valve</text>
<text x="643.6" y="416.2" font-size="18.5" font-weight="bold" textLength="97.9" lengthAdjust="spacing">Enrichener</text>
<text x="643.8" y="434.2" font-size="18.5" font-weight="bold" textLength="69.8" lengthAdjust="spacing">air inlet</text>
<text x="644.5" y="495.5" font-size="18.5" font-weight="bold" textLength="67.5" lengthAdjust="spacing">Air/fuel</text>
<text x="643.8" y="513.8" font-size="18.5" font-weight="bold" textLength="72.7" lengthAdjust="spacing">passage</text>
<text x="617.1" y="777.4" font-size="18.5" font-weight="bold" textLength="96.6" lengthAdjust="spacing">Enrichener</text>
<text x="616.4" y="794.9" font-size="18.5" font-weight="bold" textLength="24.3" lengthAdjust="spacing">jet</text>
<text x="213.4" y="859.3" font-size="17.5" font-weight="normal" textLength="29.4" lengthAdjust="spacing" stroke="#111" stroke-width="0.7">AIR</text>
<text x="213.2" y="892.4" font-size="17.5" font-weight="normal" textLength="46.4" lengthAdjust="spacing" stroke="#111" stroke-width="0.7">FUEL</text>
<text x="214" y="925.2" font-size="17.5" font-weight="normal" textLength="83.6" lengthAdjust="spacing" stroke="#111" stroke-width="0.7">AIR/FUEL</text>
<text x="360.7" y="900.3" font-size="16.3" font-weight="bold" textLength="149.6" lengthAdjust="spacing">STARTER SYSTEM</text>
<text x="315.4" y="1000.4" font-size="19.4" font-weight="normal" textLength="248.6" lengthAdjust="spacing" stroke="#111" stroke-width="0.5">Figure 4-16. Starter System</text>
<rect x="167.8" y="835" width="30.5" height="29.5" fill="#1fbcec" stroke="#1a1a2a" stroke-width="1.4"/>
<rect x="167.8" y="873" width="30.5" height="29.5" fill="#f33a4c" stroke="#2a1a1a" stroke-width="1.4"/>
<rect x="168.3" y="910.8" width="30" height="30" fill="#3b3f8e" stroke="#1a1a2a" stroke-width="1.4"/>
</svg>
</body></html>
